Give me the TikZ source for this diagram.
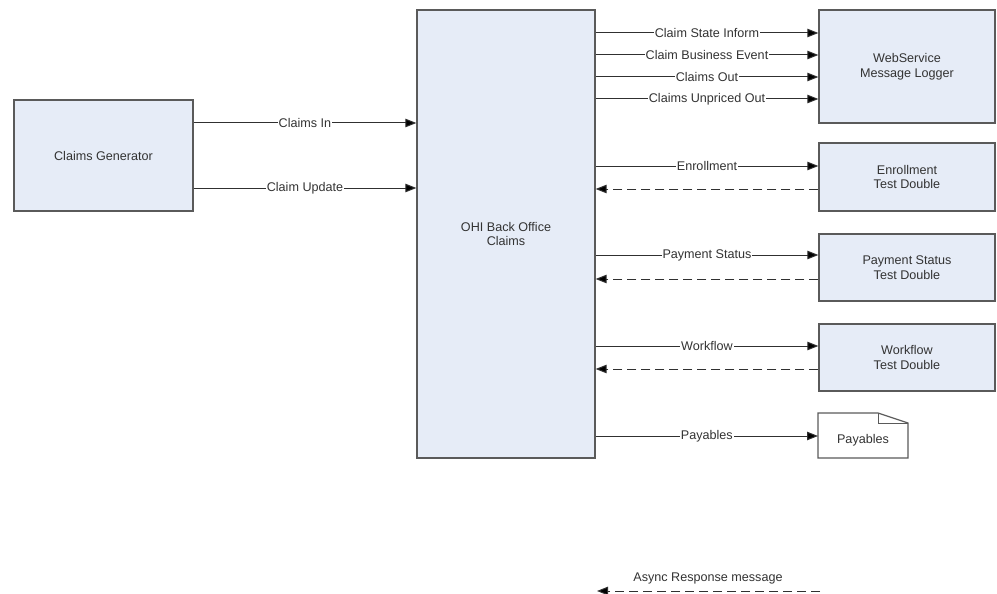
\documentclass[tikz,border=0pt]{standalone}
\usepackage{fontspec}
\setmainfont{Liberation Sans}
\usetikzlibrary{arrows.meta}
\definecolor{boxfill}{HTML}{E6ECF7}
\definecolor{boxline}{HTML}{5A5A5A}
\definecolor{txt}{HTML}{333333}
\definecolor{ln}{HTML}{303030}
\tikzset{
  box/.style={draw=boxline, line width=1.3pt, fill=boxfill, inner sep=0pt, align=center, text=txt,
              font=\fontsize{12.6}{14.5}\selectfont},
  arr/.style={draw=ln, line width=1pt, -{Triangle[length=11pt,width=8.5pt,fill=black]}},
  darr/.style={arr, dash pattern=on 9pt off 5pt},
  lbl/.style={fill=white, inner xsep=1pt, inner ysep=0pt, text=txt, font=\fontsize{12.6}{14}\selectfont}
}
\begin{document}
\begin{tikzpicture}[x=1pt,y=-1pt]
\useasboundingbox (0,0) rectangle (997,594);
\node[box, minimum width=179pt, minimum height=111pt] (gen) at (103.5,155.5) {Claims Generator};
\node[box, minimum width=178pt, minimum height=448pt] (ohi) at (506,234) {OHI Back Office\\Claims};
\node[box, minimum width=176pt, minimum height=113pt] (web) at (907,66.5) {WebService\\Message Logger};
\node[box, minimum width=176pt, minimum height=68pt] (enr) at (907,177) {Enrollment\\Test Double};
\node[box, minimum width=176pt, minimum height=67pt] (pay) at (907,267.5) {Payment Status\\Test Double};
\node[box, minimum width=176pt, minimum height=67pt] (wf) at (907,357.5) {Workflow\\Test Double};
% Payables document
\draw[draw=boxline, line width=1.2pt, fill=white] (818,413) -- (878,413) -- (908,423) -- (908,458) -- (818,458) -- cycle;
\draw[draw=boxline, line width=1pt] (878,413) -- (878,423) -- (908,423);
\node[inner sep=0pt, text=txt, font=\fontsize{12.6}{14}\selectfont] (pbl) at (863,440) {Payables};
\coordinate (pblw) at (818,436);

% arrows
\draw[arr] (gen.east |- 0,123) -- node[lbl]{Claims In} (ohi.west |- 0,123);
\draw[arr] (gen.east |- 0,188) -- node[lbl]{Claim Update} (ohi.west |- 0,188);

\draw[arr] (ohi.east |- 0,33) -- node[lbl]{Claim State Inform} (web.west |- 0,33);
\draw[arr] (ohi.east |- 0,55) -- node[lbl]{Claim Business Event} (web.west |- 0,55);
\draw[arr] (ohi.east |- 0,77) -- node[lbl]{Claims Out} (web.west |- 0,77);
\draw[arr] (ohi.east |- 0,99) -- node[lbl]{Claims Unpriced Out} (web.west |- 0,99);

\draw[arr] (ohi.east |- 0,166) -- node[lbl]{Enrollment} (enr.west |- 0,166);
\draw[darr] (enr.west |- 0,189) -- (ohi.east |- 0,189);
\draw[arr] (ohi.east |- 0,255) -- node[lbl]{Payment Status} (pay.west |- 0,255);
\draw[darr] (pay.west |- 0,279) -- (ohi.east |- 0,279);
\draw[arr] (ohi.east |- 0,346) -- node[lbl]{Workflow} (wf.west |- 0,346);
\draw[darr] (wf.west |- 0,369) -- (ohi.east |- 0,369);
\draw[arr] (ohi.east |- 0,436) -- node[lbl]{Payables} (pblw);

% legend
\node[lbl] (legtxt) at (708,578) {Async Response message};
\coordinate (legR) at (820,591);
\coordinate (legL) at (597,591);
\draw[darr] (legR) -- (legL);
\end{tikzpicture}
\end{document}
